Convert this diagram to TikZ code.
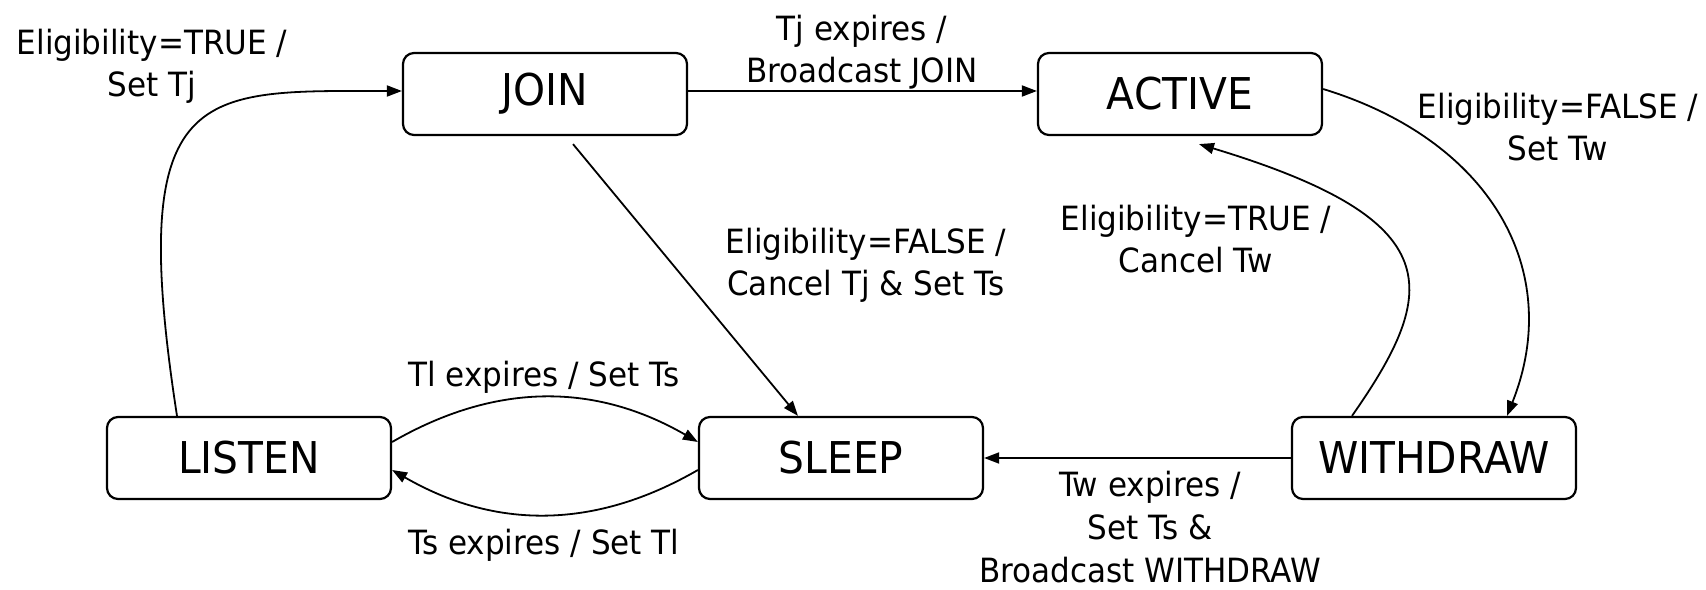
\documentclass[tikz,border=0pt]{standalone}
\usepackage{fontspec}
\setmainfont{DejaVu Sans}[FakeStretch=0.93]
\usetikzlibrary{arrows.meta}
\begin{document}
\begin{tikzpicture}[x=1bp,y=-1bp,
  state/.style={draw, line width=2.2bp, rounded corners=11bp, minimum width=284bp,
    minimum height=82bp, inner sep=0pt, font=\fontsize{44}{50}\selectfont},
  lbl/.style={inner sep=0pt, align=center, font=\fontsize{33.5}{43}\selectfont},
  arr/.style={line width=1.8bp, -{Triangle[length=15bp,width=11bp]}}]
\useasboundingbox (0,0) rectangle (1706,590);
\fill[white] (0,0) rectangle (1706,590);
% states
\node[state] (join) at (545,94) {JOIN};
\node[state] (active) at (1180,94) {ACTIVE};
\node[state] (listen) at (249,458) {LISTEN};
\node[state] (sleep) at (841,458) {SLEEP};
\node[state] (withdraw) at (1434,458) {WITHDRAW};
% labels
\node[lbl] (ltl) at (152,67) {\strut Eligibility=TRUE /\\Set Tj\strut};
\node[lbl] (lja) at (862,53) {\strut Tj expires /\\Broadcast JOIN\strut};
\node[lbl] (law) at (1558,131) {\strut Eligibility=FALSE /\\Set Tw\strut};
\node[lbl] (lwa) at (1196,243) {\strut Eligibility=TRUE /\\Cancel Tw\strut};
\node[lbl] (ljs) at (866,266) {\strut Eligibility=FALSE /\\Cancel Tj \& Set Ts\strut};
\node[lbl] (lls) at (544,378) {\strut Tl expires / Set Ts\strut};
\node[lbl] (lsl) at (544,546) {\strut Ts expires / Set Tl\strut};
\node[lbl] (lws) at (1150,525) {\strut Tw expires /\\Set Ts \&\\Broadcast WITHDRAW};
% transitions
\draw[arr] ([xshift=-72bp]listen.north) .. controls (125,80) and (200,91) .. ([yshift=3bp]join.west);
\draw[arr] ([yshift=3bp]join.east) -- ([yshift=3bp]active.west);
\draw[arr] ([yshift=5bp]active.east) .. controls (1490,140) and (1565,270) .. ([xshift=73bp]withdraw.north);
\draw[arr] ([xshift=-82bp]withdraw.north) .. controls (1440,290) and (1450,220) .. ([xshift=19bp,yshift=-8bp]active.south);
\draw[arr] ([xshift=28bp,yshift=-8bp]join.south) -- ([xshift=-43bp]sleep.north);
\draw[arr] ([yshift=16bp]listen.east) to[bend left=30] ([yshift=16bp]sleep.west);
\draw[arr] ([yshift=-12bp]sleep.west) to[bend left=30] ([yshift=-12bp]listen.east);
\draw[arr] (withdraw.west) -- (sleep.east);
\end{tikzpicture}
\end{document}
